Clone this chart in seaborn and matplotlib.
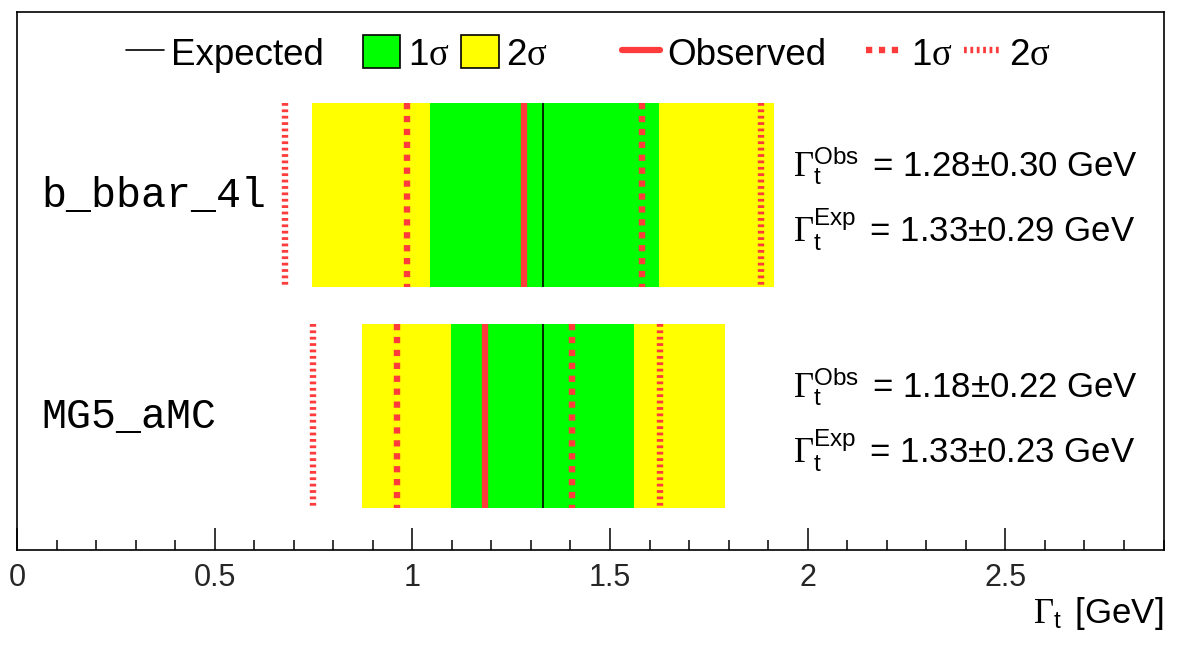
import numpy as np
import matplotlib
matplotlib.use("Agg")
import matplotlib.pyplot as plt
from matplotlib.lines import Line2D
from matplotlib.patches import Patch
from matplotlib.ticker import MultipleLocator
import seaborn as sns

# values (GeV)
models = ["b_bbar_4l", "MG5_aMC"]
ypos = [1, 0]
exp_val = [1.33, 1.33]
exp_1s_lo = [1.044, 1.097]
exp_1s_hi = [1.623, 1.561]
exp_2s_lo = [0.745, 0.873]
exp_2s_hi = [1.915, 1.791]
obs_val = [1.282, 1.185]
obs_1s_lo = [0.987, 0.962]
obs_1s_hi = [1.581, 1.404]
obs_2s_lo = [0.677, 0.748]
obs_2s_hi = [1.883, 1.627]
obs_txt = [1.28, 1.18]
obs_err = [0.30, 0.22]
exp_txt = [1.33, 1.33]
exp_err = [0.29, 0.23]

sns.set_style("white")
plt.rcParams["font.family"] = ["Liberation Sans", "DejaVu Sans"]
plt.rcParams["text.color"] = "black"
plt.rcParams["mathtext.fontset"] = "custom"
plt.rcParams["mathtext.rm"] = "Liberation Serif"
plt.rcParams["mathtext.it"] = "Liberation Serif:italic"
plt.rcParams["mathtext.sf"] = "Liberation Sans"
plt.rcParams["lines.scale_dashes"] = False

W, H = 1182, 648
fig = plt.figure(figsize=(W / 100, H / 100), dpi=100)
ax = fig.add_axes([17 / W, 1 - 550 / H, (1163.5 - 17) / W, (550 - 12) / H])

red = "#ff3b3b"
bh = 0.83
dash1 = (0, (4.5, 4.8))
dash2 = (0, (2.0, 2.6))

for i, y in enumerate(ypos):
    ax.barh(y, exp_2s_hi[i] - exp_2s_lo[i], left=exp_2s_lo[i], height=bh,
            color="#ffff00", lw=0)
    ax.barh(y, exp_1s_hi[i] - exp_1s_lo[i], left=exp_1s_lo[i], height=bh,
            color="#00ff00", lw=0)
    yy = [y + bh / 2, y - bh / 2]
    for x in (obs_2s_lo[i], obs_2s_hi[i]):
        ax.plot([x, x], yy, color=red, lw=4.6, ls=dash2, dash_capstyle="butt")
    for x in (obs_1s_lo[i], obs_1s_hi[i]):
        ax.plot([x, x], yy, color=red, lw=4.6, ls=dash1, dash_capstyle="butt")
    ax.plot([obs_val[i]] * 2, yy, color=red, lw=4.5, solid_capstyle="butt")
    ax.plot([exp_val[i]] * 2, yy, color="black", lw=1.2, solid_capstyle="butt")

    ax.text(0.061, y - 0.052, models[i], family="Liberation Mono", fontsize=30,
            ha="left", va="baseline")
    ax.text(1.963, y + 0.086,
            r"$\Gamma_{\mathsf{t}}^{\mathsf{Obs}}\,$ = " + f"{obs_txt[i]:.2f}\u00b1{obs_err[i]:.2f} GeV",
            fontsize=25, ha="left", va="baseline")
    ax.text(1.963, y - 0.213,
            r"$\Gamma_{\mathsf{t}}^{\mathsf{Exp}}\,$ = " + f"{exp_txt[i]:.2f}\u00b1{exp_err[i]:.2f} GeV",
            fontsize=25, ha="left", va="baseline")

ax.set_xlim(0, 2.9)
ax.set_ylim(-0.606, 1.828)
ax.set_yticks([])
ax.set_xticks([0, 0.5, 1, 1.5, 2, 2.5])
ax.set_xticklabels(["0", "0.5", "1", "1.5", "2", "2.5"])
ax.xaxis.set_minor_locator(MultipleLocator(0.1))
ax.tick_params(axis="x", which="major", direction="in", bottom=True, top=False,
               length=16, width=1.1, color="black", labelsize=22, pad=9)
ax.tick_params(axis="x", which="minor", direction="in", bottom=True, top=False,
               length=7.5, width=1.1, color="black")
for s in ax.spines.values():
    s.set_color("black")
    s.set_linewidth(1.2)

fig.text(1163 / W, 1 - 623 / H, r"$\Gamma_{\mathsf{t}}\,$ [GeV]", fontsize=25,
         ha="right", va="baseline")

# legend entries, one per slot across the top
handles = [
    Line2D([], [], color="black", lw=1.2),
    Patch(facecolor="#00ff00", edgecolor="black", lw=1.2),
    Patch(facecolor="#ffff00", edgecolor="black", lw=1.2),
    Line2D([], [], color=red, lw=4.5),
    Line2D([], [], color=red, lw=4.6, ls=dash1),
    Line2D([], [], color=red, lw=4.6, ls=dash2),
]
labels = ["Expected", r"1$\mathrm{\sigma}$", r"2$\mathrm{\sigma}$",
          "Observed", r"1$\mathrm{\sigma}$", r"2$\mathrm{\sigma}$"]
slots = [126, 362.5, 461, 622, 865.5, 963.7]
for h, l, xp in zip(handles, labels, slots):
    fig.legend([h], [l], loc="center left", bbox_to_anchor=(xp / W, 1 - 54 / H),
               frameon=False, borderpad=0, borderaxespad=0, fontsize=26.5,
               handlelength=1.03, handleheight=1.0, handletextpad=0.2)

fig.savefig("out.png", dpi=100)
